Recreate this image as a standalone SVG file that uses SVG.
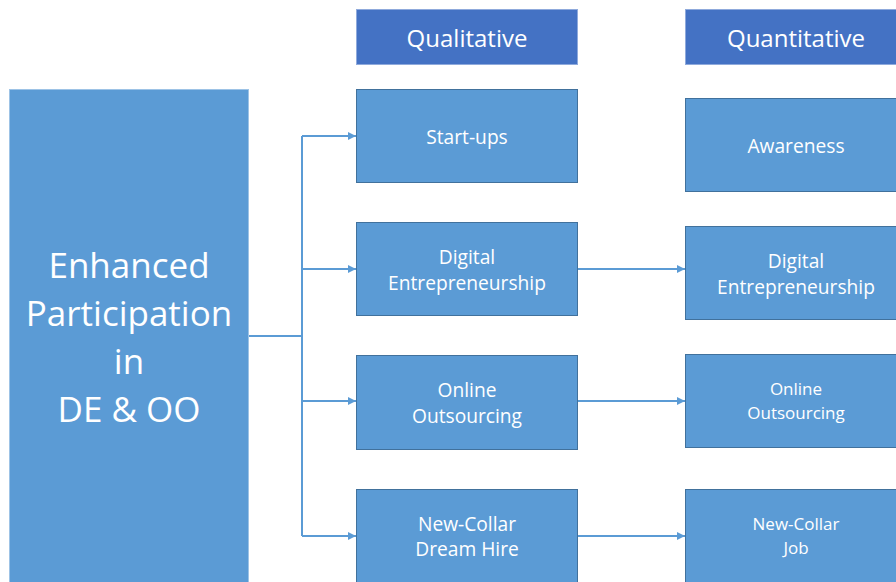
<svg xmlns="http://www.w3.org/2000/svg" width="896" height="582" viewBox="0 0 896 582">
<defs>
<style>
.hdr{fill:#4472C4;stroke:#8FAADC;stroke-width:1}
.box{fill:#5B9BD5;stroke:#41719C;stroke-width:1}
.big{fill:#5B9BD5;stroke:#9DC3E6;stroke-width:1}
text{font-family:"Open Sans","Liberation Sans",sans-serif;fill:#FFFFFF;text-anchor:middle;dominant-baseline:central}
.t{font-size:19.2px}
.ts{font-size:17px}
.th{font-size:24px}
.tb{font-size:35px}
.c{fill:none;stroke:#5B9BD5;stroke-width:2}
</style>
<marker id="ah" viewBox="0 0 10 10" refX="10" refY="5" markerWidth="4" markerHeight="4" orient="auto" markerUnits="strokeWidth">
<path d="M0,0 L10,5 L0,10 z" fill="#5B9BD5"/>
</marker>
</defs>
<rect width="896" height="582" fill="#FFFFFF"/>
<g id="connectors">
<path class="c" d="M249,336 H302"/>
<path class="c" d="M302,136 V536"/>
<path class="c" d="M302,136 H356" marker-end="url(#ah)"/>
<path class="c" d="M302,269 H356" marker-end="url(#ah)"/>
<path class="c" d="M302,401 H356" marker-end="url(#ah)"/>
<path class="c" d="M302,536 H356" marker-end="url(#ah)"/>
<path class="c" d="M578,269 H685" marker-end="url(#ah)"/>
<path class="c" d="M578,401 H685" marker-end="url(#ah)"/>
<path class="c" d="M578,536 H685" marker-end="url(#ah)"/>
</g>
<g id="hdr-qual"><rect class="hdr" x="356.5" y="9.5" width="221" height="55"/><text class="th" x="467" y="37">Qualitative</text></g>
<g id="hdr-quant"><rect class="hdr" x="685.5" y="9.5" width="220" height="55"/><text class="th" x="796" y="37">Quantitative</text></g>
<g id="main"><rect class="big" x="9.5" y="89.5" width="239" height="500"/>
<text class="tb" x="129" y="264">Enhanced</text>
<text class="tb" x="129" y="312">Participation</text>
<text class="tb" x="129" y="360">in</text>
<text class="tb" x="129" y="408">DE &amp; OO</text></g>
<g id="q-startups"><rect class="box" x="356.5" y="89.5" width="221" height="93"/><text class="t" x="467" y="136">Start-ups</text></g>
<g id="q-de"><rect class="box" x="356.5" y="222.5" width="221" height="93"/><text class="t" x="467" y="256">Digital</text><text class="t" x="467" y="282">Entrepreneurship</text></g>
<g id="q-oo"><rect class="box" x="356.5" y="355.5" width="221" height="94"/><text class="t" x="467" y="389">Online</text><text class="t" x="467" y="415">Outsourcing</text></g>
<g id="q-nc"><rect class="box" x="356.5" y="489.5" width="221" height="100"/><text class="t" x="467" y="523">New-Collar</text><text class="t" x="467" y="548">Dream Hire</text></g>
<g id="n-aw"><rect class="box" x="685.5" y="98.5" width="220" height="93"/><text class="t" x="796" y="145">Awareness</text></g>
<g id="n-de"><rect class="box" x="685.5" y="226.5" width="220" height="93"/><text class="t" x="796" y="260">Digital</text><text class="t" x="796" y="286">Entrepreneurship</text></g>
<g id="n-oo"><rect class="box" x="685.5" y="354.5" width="220" height="93"/><text class="ts" x="796" y="388">Online</text><text class="ts" x="796" y="412">Outsourcing</text></g>
<g id="n-nc"><rect class="box" x="685.5" y="489.5" width="220" height="100"/><text class="ts" x="796" y="523">New-Collar</text><text class="ts" x="796" y="547">Job</text></g>
</svg>
